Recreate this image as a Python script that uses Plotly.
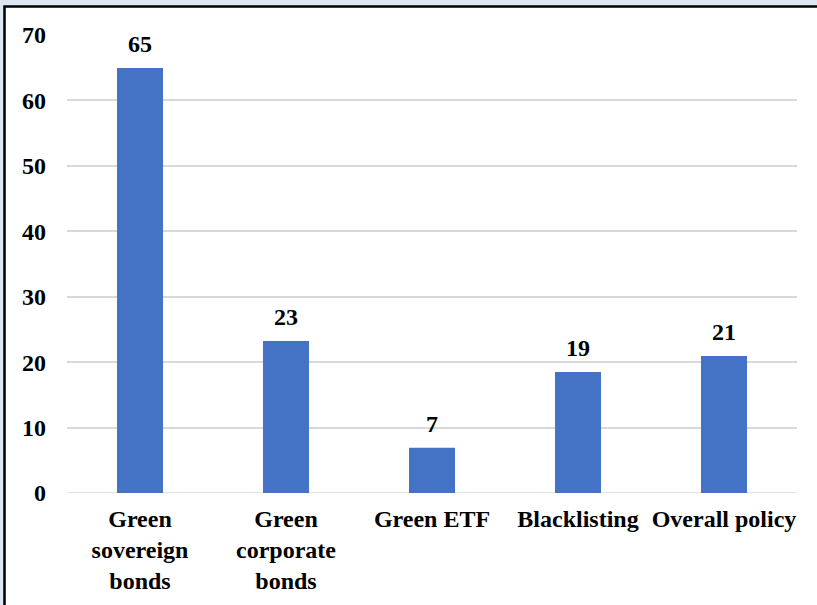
import plotly.graph_objects as go

categories = ["Green<br>sovereign<br>bonds", "Green<br>corporate<br>bonds", "Green ETF", "Blacklisting", "Overall policy"]
values = [64.95, 23.25, 6.9, 18.5, 20.95]
value_labels = ["65", "23", "7", "19", "21"]
y_ticks = [0, 10, 20, 30, 40, 50, 60, 70]

FONT = "Liberation Serif, Times New Roman, serif"
LABEL_FONT = dict(family=FONT, size=24, color="black", weight="bold")

fig = go.Figure()
fig.add_trace(go.Bar(
    x=categories,
    y=values,
    marker=dict(color="#4472C4", line=dict(width=0)),
    cliponaxis=False,
    hoverinfo="skip",
))

for cat, val, lab in zip(categories, values, value_labels):
    fig.add_annotation(x=cat, y=val, text=lab, showarrow=False,
                       xref="x", yref="y", yanchor="bottom", yshift=9,
                       font=LABEL_FONT)

fig.update_layout(
    width=817, height=605,
    margin=dict(l=67, r=20, t=35, b=112),
    paper_bgcolor="#dce6f2",
    plot_bgcolor="white",
    bargap=0.685,
    showlegend=False,
    font=dict(family=FONT, size=24, color="black", weight="bold"),
    xaxis=dict(
        showgrid=False, showline=False, zeroline=False,
        tickfont=LABEL_FONT, automargin=False,
        ticks="", ticklabelstandoff=9,
    ),
    yaxis=dict(
        range=[0, 70], tickvals=y_ticks,
        showgrid=True, gridcolor="#d9d9d9", gridwidth=1.5,
        zeroline=False, showline=False,
        tickfont=LABEL_FONT, automargin=False,
        ticks="", ticklabelstandoff=20,
    ),
    shapes=[
        dict(type="rect", xref="paper", yref="paper", layer="below",
             x0=-0.0856, x1=1.05, y0=-0.3, y1=1.0622,
             fillcolor="white", line=dict(color="black", width=2.5)),
        dict(type="line", xref="paper", yref="y", layer="below",
             x0=0, x1=1, y0=0, y1=0, line=dict(color="#d9d9d9", width=1.5)),
    ],
)

fig.write_html("out.html", config={"displayModeBar": False},
               post_script="document.body.style.margin='0';document.body.style.overflow='hidden';")
